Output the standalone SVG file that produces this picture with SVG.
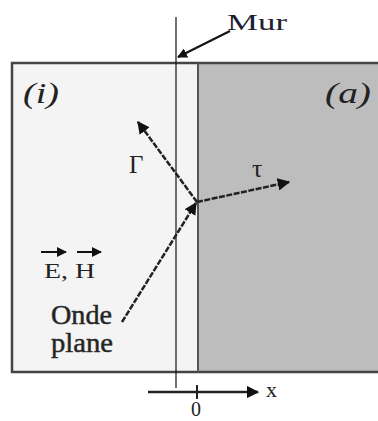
<svg xmlns="http://www.w3.org/2000/svg" width="378" height="421" viewBox="0 0 378 421">
<style>
.t{fill:#222;font-family:Liberation Serif, DejaVu Serif, serif}
.ln{stroke:#111;stroke-width:2;fill:none}
.dl{stroke:#222;stroke-width:2.5;fill:none;stroke-dasharray:6 1.5}
</style>
<defs>
<marker id="ah" viewBox="0 0 10 10" refX="9" refY="5" markerWidth="5" markerHeight="5" orient="auto" markerUnits="strokeWidth">
<path d="M0,0 L10,5 L0,10 z" fill="#111"/>
</marker>
</defs>
<rect x="0" y="0" width="378" height="421" fill="#fff"/>
<g id="milieu-i">
<rect x="12" y="63" width="186" height="309" fill="#f4f4f4"/>
<text class="t" x="23" y="103" font-size="29" font-style="italic" textLength="36" lengthAdjust="spacingAndGlyphs">(i)</text>
</g>
<g id="milieu-a">
<rect x="198" y="63" width="180" height="309" fill="#bdbdbd"/>
<text class="t" x="325" y="103" font-size="29" font-style="italic" textLength="46" lengthAdjust="spacingAndGlyphs">(a)</text>
</g>
<g id="cadre">
<path d="M378,63 H12 V372 H378" stroke="#444" stroke-width="2.5" fill="none"/>
<line x1="198" y1="63" x2="198" y2="372" stroke="#555" stroke-width="2"/>
</g>
<g id="mur">
<line x1="176" y1="17" x2="176" y2="388" stroke="#111" stroke-width="1.2"/>
<text class="t" x="227" y="30" font-size="23" style="fill:#1c2233" textLength="60" lengthAdjust="spacingAndGlyphs">Mur</text>
</g>
<g id="labels">
<text class="t" x="129" y="173" font-size="25">Γ</text>
<text class="t" x="252" y="177" font-size="26">τ</text>
<text class="t" x="44" y="278" font-size="22" textLength="51" lengthAdjust="spacingAndGlyphs">E, H</text>
<text class="t" x="51" y="324" font-size="27" stroke="#333" stroke-width="0.5" textLength="61" lengthAdjust="spacingAndGlyphs">Onde</text>
<text class="t" x="51" y="352" font-size="27" stroke="#333" stroke-width="0.5" textLength="62" lengthAdjust="spacingAndGlyphs">plane</text>
<text class="t" x="191" y="416" font-size="20">0</text>
<text class="t" x="266" y="397" font-size="22">x</text>
</g>
<g id="connectors">
<line class="ln" x1="230" y1="31" x2="178" y2="57" marker-end="url(#ah)" stroke-width="2"/>
<line class="dl" x1="122" y1="322" x2="196" y2="203" marker-end="url(#ah)"/>
<line class="dl" x1="197" y1="202" x2="138" y2="122" marker-end="url(#ah)"/>
<line class="dl" x1="197" y1="202" x2="289" y2="182" marker-end="url(#ah)"/>
<line x1="41" y1="252" x2="66" y2="252" stroke="#111" stroke-width="2" marker-end="url(#ah)"/>
<line x1="77" y1="252" x2="101" y2="252" stroke="#111" stroke-width="2" marker-end="url(#ah)"/>
<line x1="148" y1="392" x2="258" y2="392" stroke="#222" stroke-width="2.5" marker-end="url(#ah)"/>
<line x1="197" y1="385" x2="197" y2="399" stroke="#222" stroke-width="2"/>
</g>
</svg>
